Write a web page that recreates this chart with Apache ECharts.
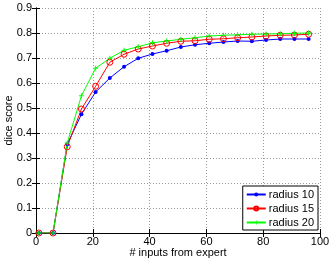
<!DOCTYPE html>
<html><head><meta charset="utf-8">
<script src="https://cdn.jsdelivr.net/npm/echarts@6/dist/echarts.min.js"></script>
<style>html,body{margin:0;padding:0;background:#fff}#c{width:332px;height:261px}</style>
</head><body><div id="c"></div>
<script>
const inputs = [1,6,11,16,21,26,31,36,41,46,51,56,61,66,71,76,81,86,91,96];
const radius10 = [0,0,0.355,0.475,0.564,0.62,0.665,0.699,0.716,0.729,0.744,0.753,0.759,0.764,0.768,0.767,0.772,0.776,0.776,0.776];
const radius15 = [0,0,0.345,0.496,0.587,0.683,0.715,0.736,0.748,0.759,0.767,0.769,0.775,0.777,0.781,0.784,0.788,0.791,0.792,0.795];
const radius20 = [0,0,0.36,0.549,0.659,0.699,0.731,0.745,0.761,0.768,0.775,0.781,0.788,0.791,0.793,0.795,0.796,0.797,0.799,0.8];
const xTicks = [0,20,40,60,80,100];
const yTicks = [0,0.1,0.2,0.3,0.4,0.5,0.6,0.7,0.8,0.9];

const font = 'Liberation Sans, Arial, sans-serif';
const plus = 'path://M4,0L6,0L6,4L10,4L10,6L6,6L6,10L4,10L4,6L0,6L0,4L4,4Z';
function pts(v){ return inputs.map((x,i)=>[x,v[i]]); }
const chart = echarts.init(document.getElementById('c'));
const axBase = {axisLine:{show:true,lineStyle:{color:'#000',width:1}}, axisTick:{show:true,inside:true,length:4,lineStyle:{color:'#000'}}};
chart.setOption({
  animation:false,
  backgroundColor:'#fff',
  grid:{left:36,right:12,top:8,bottom:28,containLabel:false,outerBoundsMode:'none'},
  xAxis:[{type:'value',min:0,max:100,interval:20,...axBase,
    axisLabel:{color:'#000',fontSize:11,fontFamily:font,margin:3},
    splitLine:{show:true,lineStyle:{type:[1,2],color:'#999'}},
    name:'# inputs from expert',nameLocation:'middle',nameGap:14,nameMoveOverlap:false,
    nameTextStyle:{color:'#000',fontSize:11,fontFamily:font,verticalAlign:'top'}},
    {type:'value',position:'top',min:0,max:100,interval:20,...axBase,axisLabel:{show:false},splitLine:{show:false}}],
  yAxis:[{type:'value',min:0,max:0.9,interval:0.1,...axBase,
    axisLabel:{color:'#000',fontSize:11,fontFamily:font,margin:4,formatter:v=>String(Math.round(v*10)/10)},
    splitLine:{show:true,lineStyle:{type:[1,2],color:'#999'}},
    name:'dice score',nameLocation:'middle',nameGap:22,nameMoveOverlap:false,
    nameTextStyle:{color:'#000',fontSize:11,fontFamily:font}},
    {type:'value',position:'right',min:0,max:0.9,interval:0.1,...axBase,axisLabel:{show:false},splitLine:{show:false}}],
  legend:{right:14,bottom:31,orient:'vertical',itemGap:3,itemWidth:19,itemHeight:5,
    backgroundColor:'#fff',borderColor:'#000',borderWidth:1,padding:[3,4,2,3],
    textStyle:{color:'#000',fontSize:11,fontFamily:font,padding:[0,0,0,-2]},
    data:[{name:'radius 10'},{name:'radius 15'},{name:'radius 20'}]},
  series:[
    {name:'radius 10',type:'line',data:pts(radius10),symbol:'circle',symbolSize:4,
      lineStyle:{color:'#0000ff',width:1},itemStyle:{color:'#0000ff',borderWidth:0}},
    {name:'radius 15',type:'line',data:pts(radius15),symbol:'circle',symbolSize:6,
      lineStyle:{color:'#ff0000',width:1},itemStyle:{color:'rgba(255,255,255,0)',borderColor:'#ff0000',borderWidth:1}},
    {name:'radius 20',type:'line',data:pts(radius20),symbol:plus,symbolSize:5,
      lineStyle:{color:'#00ff00',width:1},itemStyle:{color:'#00ff00',borderWidth:0}}
  ]
});
</script></body></html>
